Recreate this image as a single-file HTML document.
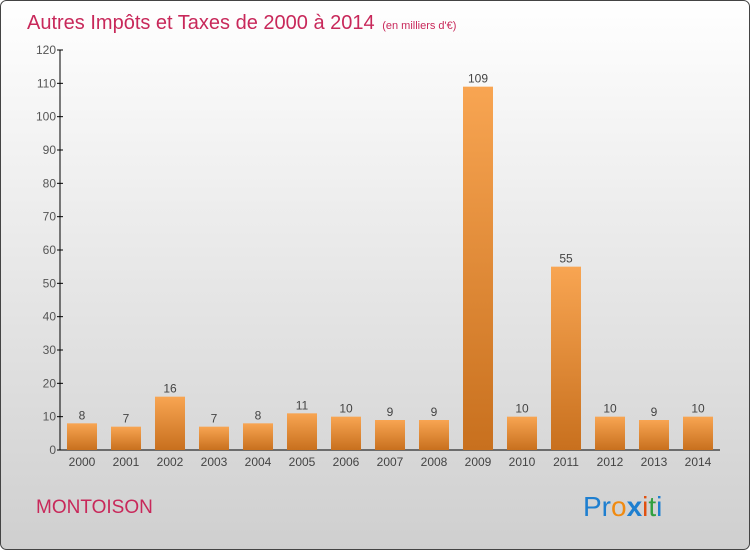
<!DOCTYPE html>
<html><head><meta charset="utf-8"><style>
body{margin:0;width:750px;height:550px;overflow:hidden}
svg{display:block;font-family:"Liberation Sans",sans-serif}
</style></head><body>
<svg width="750" height="550" viewBox="0 0 750 550">
<defs>
<linearGradient id="bg" x1="0" y1="0" x2="0" y2="1"><stop offset="0" stop-color="#ffffff"/><stop offset="1" stop-color="#cfcfcf"/></linearGradient>
<linearGradient id="bar" x1="0" y1="0" x2="0" y2="1"><stop offset="0" stop-color="#f8a552"/><stop offset="1" stop-color="#c8701e"/></linearGradient>
</defs>
<rect x="0.5" y="0.5" width="749" height="549" rx="6" fill="url(#bg)" stroke="#444"/>
<text x="27" y="29" font-size="20" fill="#c8285a">Autres Impôts et Taxes de 2000 à 2014 <tspan font-size="11" dx="2">(en milliers d'€)</tspan></text>
<g id="axes"></g>
<g id="bars"></g>
<text x="36" y="513" font-size="19" fill="#c8285a">MONTOISON</text>
<g font-size="28">
<text x="583" y="516"><tspan fill="#1e7fd0">Pr</tspan><tspan fill="#f08a10">o</tspan><tspan fill="#1e7fd0" font-weight="bold">x</tspan><tspan fill="#e05010">i</tspan><tspan fill="#30a040">t</tspan><tspan fill="#1e7fd0">i</tspan></text>
</g>
</svg>
<script>
const years=["2000","2001","2002","2003","2004","2005","2006","2007","2008","2009","2010","2011","2012","2013","2014"];
const values=[8,7,16,7,8,11,10,9,9,109,10,55,10,9,10];
const ticks=[0,10,20,30,40,50,60,70,80,90,100,110,120];
const NS="http://www.w3.org/2000/svg";
const y0=450,yTop=50,maxV=120;
const yS=v=>y0-(v/maxV)*(y0-yTop);
const xS=i=>82+i*44;
function mk(t,a,p){const e=document.createElementNS(NS,t);for(const k in a)e.setAttribute(k,a[k]);p.appendChild(e);return e;}
const ax=document.getElementById('axes');
const yl=mk('line',{x1:60,y1:yTop,x2:60,y2:y0,stroke:'#000'},ax);


const xl=mk('line',{x1:60,y1:y0,x2:720,y2:y0,stroke:'#000'},ax);


ticks.forEach(t=>{
 mk('line',{x1:57,y1:yS(t),x2:63,y2:yS(t),stroke:'#000'},ax);
 const tx=mk('text',{x:56,y:yS(t)+4,'font-size':12,fill:'#555','text-anchor':'end'},ax);
 tx.textContent=t;
 
 
});
const bg=document.getElementById('bars');
years.forEach((yr,i)=>{
 const v=values[i],cx=xS(i);
 const r=mk('rect',{x:cx-15,y:yS(v),width:30,height:y0-yS(v),fill:'url(#bar)'},bg);
 
 
 const lb=mk('text',{x:cx,y:yS(v)-4,'font-size':12,fill:'#444','text-anchor':'middle'},bg);
 lb.textContent=v;
 
 
 const xt=mk('text',{x:cx,y:466,'font-size':12,fill:'#444','text-anchor':'middle'},bg);
 xt.textContent=yr;
 
 
});
</script>
</body></html>
